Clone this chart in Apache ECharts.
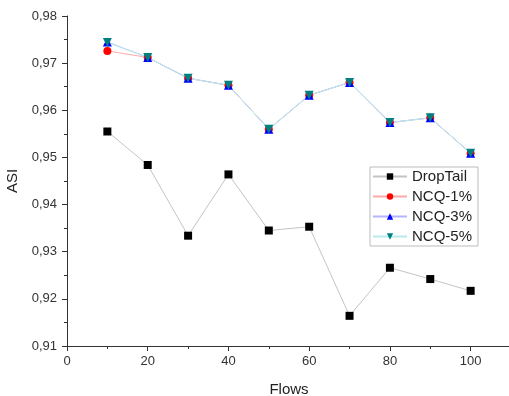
<!DOCTYPE html>
<html>
<head>
<meta charset="utf-8">
<script src="https://cdn.jsdelivr.net/npm/echarts@6/dist/echarts.min.js"></script>
<style>
  html, body { margin: 0; padding: 0; background: #fff; }
  #chart { width: 509px; height: 396px; }
</style>
</head>
<body>
<div id="chart"></div>
<script>
// Number of flows on the x axis
const flows = [10, 20, 30, 40, 50, 60, 70, 80, 90, 100];

// ASI per queue policy
const dropTail = [0.9555, 0.9484, 0.9334, 0.9464, 0.9345, 0.9353, 0.9164, 0.9266, 0.9242, 0.9217];
const ncq1 = [0.9726, 0.9712, 0.9668, 0.9653, 0.9560, 0.9632, 0.9659, 0.9574, 0.9584, 0.9509];
const ncq3 = [0.9745, 0.9712, 0.9668, 0.9653, 0.9560, 0.9632, 0.9659, 0.9574, 0.9584, 0.9509];
const ncq5 = [0.9744, 0.9712, 0.9668, 0.9653, 0.9560, 0.9632, 0.9659, 0.9574, 0.9584, 0.9509];

const seriesNames = ['DropTail', 'NCQ-1%', 'NCQ-3%', 'NCQ-5%'];

const pairs = vals => flows.map((f, i) => [f, vals[i]]);
const font = 'Arial, "Liberation Sans", sans-serif';
const axisColor = '#333';

const chart = echarts.init(document.getElementById('chart'), null, { renderer: 'canvas' });

function lineSeries(name, data, lineColor, symbol, symbolColor, size, rotate) {
  return {
    name: name,
    type: 'line',
    data: pairs(data),
    symbol: symbol,
    symbolSize: size,
    symbolRotate: rotate || 0,
    showAllSymbol: true,
    lineStyle: { color: lineColor, width: 1 },
    itemStyle: { color: symbolColor, borderWidth: 0 },
    emphasis: { disabled: true },
    animation: false
  };
}

chart.setOption({
  backgroundColor: '#fff',
  animation: false,
  grid: { left: 67, top: 16, width: 444, height: 330, containLabel: false, outerBoundsMode: 'none' },
  legend: {
    orient: 'vertical',
    left: 370,
    top: 167,
    padding: [2, 6, 2, 2],
    itemWidth: 34,
    itemHeight: 8,
    itemGap: 5,
    borderColor: '#bbb',
    borderWidth: 1,
    textStyle: { fontFamily: font, fontSize: 15, color: '#222' },
    data: seriesNames
  },
  xAxis: {
    type: 'value',
    min: 0,
    max: 110,
    interval: 20,
    name: 'Flows',
    nameLocation: 'middle',
    nameGap: 36,
    nameTextStyle: { fontFamily: font, fontSize: 15, color: '#222' },
    axisLine: { show: true, lineStyle: { color: axisColor, width: 1 } },
    axisTick: { show: true, length: 5, lineStyle: { color: axisColor } },
    minorTick: { show: true, splitNumber: 2, length: 3, lineStyle: { color: axisColor } },
    splitLine: { show: false },
    axisLabel: {
      margin: 9,
      fontFamily: font,
      fontSize: 13,
      color: '#333',
      formatter: v => (v > 100 ? '' : String(v))
    }
  },
  yAxis: {
    type: 'value',
    min: 0.91,
    max: 0.98,
    interval: 0.01,
    name: 'ASI',
    nameLocation: 'middle',
    nameGap: 45,
    nameRotate: 90,
    nameTextStyle: { fontFamily: font, fontSize: 15, color: '#222' },
    axisLine: { show: true, lineStyle: { color: axisColor, width: 1 } },
    axisTick: { show: true, length: 5, lineStyle: { color: axisColor } },
    minorTick: { show: true, splitNumber: 2, length: 3, lineStyle: { color: axisColor } },
    splitLine: { show: false },
    axisLabel: {
      margin: 10,
      fontFamily: font,
      fontSize: 13,
      color: '#333',
      formatter: v => (Math.round(v * 100) / 100).toFixed(2).replace('.', ',')
    }
  },
  series: [
    lineSeries('DropTail', dropTail, '#c4c4c4', 'rect', '#000', 8),
    lineSeries('NCQ-1%', ncq1, '#ffaaaa', 'circle', '#ff0000', 8),
    lineSeries('NCQ-3%', ncq3, '#b4b4ff', 'triangle', '#0000ff', 9),
    lineSeries('NCQ-5%', ncq5, '#b8ecec', 'triangle', '#008080', 9, 180)
  ]
});
</script>
</body>
</html>
